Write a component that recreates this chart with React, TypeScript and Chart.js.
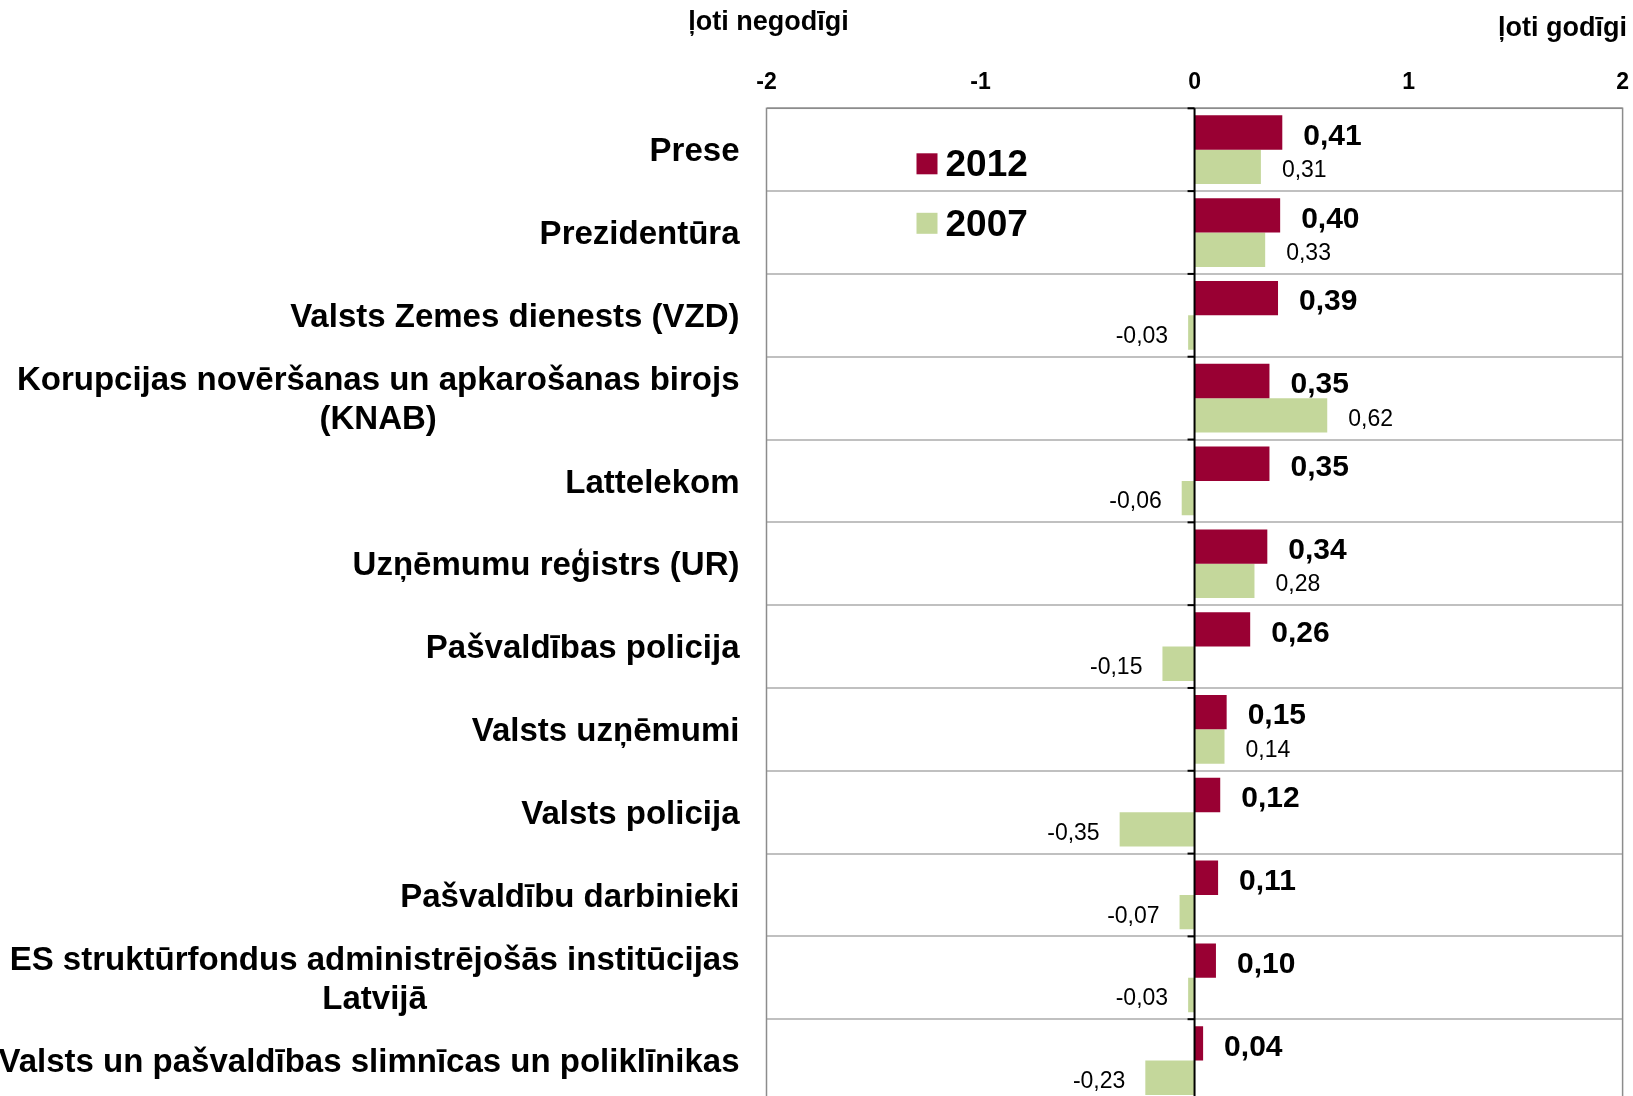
import React, { useEffect, useRef } from "react";
import { Chart, registerables } from "chart.js";

Chart.register(...registerables);

const categories: (string | string[])[] = [
  "Prese",
  "Prezidentūra",
  "Valsts Zemes dienests (VZD)",
  ["Korupcijas novēršanas un apkarošanas birojs", "(KNAB)"],
  "Lattelekom",
  "Uzņēmumu reģistrs (UR)",
  "Pašvaldības policija",
  "Valsts uzņēmumi",
  "Valsts policija",
  "Pašvaldību darbinieki",
  ["ES struktūrfondus administrējošās institūcijas", "Latvijā"],
  "Valsts un pašvaldības slimnīcas un poliklīnikas",
];

const values2012 = [0.41, 0.4, 0.39, 0.35, 0.35, 0.34, 0.26, 0.15, 0.12, 0.11, 0.1, 0.04];
const values2007 = [0.31, 0.33, -0.03, 0.62, -0.06, 0.28, -0.15, 0.14, -0.35, -0.07, -0.03, -0.23];

const seriesLabels = ["2012", "2007"];
const seriesColors = ["#990033", "#C4D79B"];

const axisMin = -2;
const axisMax = 2;
const leftTitle = "ļoti negodīgi";
const rightTitle = "ļoti godīgi";

const FONT = "'Liberation Sans', Arial, sans-serif";

const fmt = (v: number) => v.toFixed(2).replace(".", ",");

const customPlugin = {
  id: "customDraw",
  beforeDatasetsDraw(chart: any) {
    const { ctx, chartArea } = chart;
    ctx.save();
    ctx.strokeStyle = "#8c8c8c";
    ctx.lineWidth = 1.5;
    ctx.strokeRect(chartArea.left, chartArea.top, chartArea.right - chartArea.left, chartArea.bottom - chartArea.top);
    ctx.restore();
  },
  afterDatasetsDraw(chart: any) {
    const { ctx, chartArea } = chart;
    const xs = chart.scales.x;
    const ys = chart.scales.y;
    const x0 = xs.getPixelForValue(0);
    ctx.save();
    // zero axis line
    ctx.strokeStyle = "#000000";
    ctx.lineWidth = 2;
    ctx.beginPath();
    ctx.moveTo(x0, chartArea.top);
    ctx.lineTo(x0, chartArea.bottom + 20);
    ctx.stroke();
    // tick marks at category boundaries
    for (let i = 0; i <= categories.length; i++) {
      const y = ys.getPixelForValue(i - 0.5);
      ctx.beginPath();
      ctx.moveTo(x0 - 7, y);
      ctx.lineTo(x0, y);
      ctx.stroke();
    }

    // data labels
    chart.data.datasets.forEach((ds: any, di: number) => {
      const meta = chart.getDatasetMeta(di);
      ctx.font = di === 0 ? `bold 30px ${FONT}` : `23px ${FONT}`;
      ctx.fillStyle = "#000000";
      ctx.textBaseline = "middle";
      meta.data.forEach((bar: any, i: number) => {
        const v = ds.data[i];
        if (v >= 0) {
          ctx.textAlign = "left";
          ctx.fillText(fmt(v), bar.x + 21, bar.y + 4);
        } else {
          ctx.textAlign = "right";
          ctx.fillText(fmt(v), bar.x - 20, bar.y + 4);
        }
      });
    });

    // category labels
    ctx.font = `bold 33px ${FONT}`;
    ctx.fillStyle = "#000000";
    ctx.textBaseline = "middle";
    ctx.textAlign = "center";
    const rightX = chartArea.left - 27;
    const lh = 38.5;
    categories.forEach((lab, i) => {
      const lines = Array.isArray(lab) ? lab : [lab];
      const maxW = Math.max(...lines.map((l) => ctx.measureText(l).width));
      const cx = rightX - maxW / 2;
      const cy = ys.getPixelForValue(i);
      lines.forEach((l, j) => {
        ctx.fillText(l, cx, cy + (j - (lines.length - 1) / 2) * lh + 2.5);
      });
    });

    // legend
    const lx = chartArea.left + 150;
    const lys = [chartArea.top + 55.5, chartArea.top + 115];
    chart.data.datasets.forEach((ds: any, di: number) => {
      ctx.fillStyle = ds.backgroundColor;
      ctx.fillRect(lx, lys[di] - 10.5, 21, 21);
      ctx.fillStyle = "#000000";
      ctx.font = `bold 37px ${FONT}`;
      ctx.textAlign = "left";
      ctx.textBaseline = "middle";
      ctx.fillText(ds.label, lx + 29, lys[di] + 2);
    });

    // titles
    ctx.font = `bold 27px ${FONT}`;
    ctx.textAlign = "center";
    ctx.fillText(leftTitle, xs.getPixelForValue(axisMin) + 2, 23);
    ctx.textAlign = "right";
    ctx.fillText(rightTitle, 1627, 29);
    ctx.restore();
  },
};

export default function App() {
  const ref = useRef<HTMLCanvasElement | null>(null);
  useEffect(() => {
    if (!ref.current) return;
    const chart = new Chart(ref.current, {
      type: "bar",
      data: {
        labels: categories as any,
        datasets: [
          { label: seriesLabels[0], data: values2012, backgroundColor: seriesColors[0], borderWidth: 0 },
          { label: seriesLabels[1], data: values2007, backgroundColor: seriesColors[1], borderWidth: 0 },
        ],
      },
      options: {
        indexAxis: "y",
        animation: false,
        responsive: false,
        devicePixelRatio: 1,
        layout: { padding: { left: 0, top: 0, right: 10.4, bottom: 8 } },
        datasets: { bar: { categoryPercentage: 0.83, barPercentage: 1.0 } },
        plugins: { legend: { display: false }, tooltip: { enabled: false }, title: { display: false } },
        scales: {
          x: {
            position: "top",
            min: axisMin,
            max: axisMax,
            ticks: {
              stepSize: 1,
              padding: 12,
              color: "#000000",
              font: { family: FONT, size: 23, weight: "bold" },
              callback: (v: any) => String(v),
            },
            grid: { display: false, drawTicks: false },
            border: { display: false },
            afterFit: (scale: any) => {
              scale.height = 108.3;
              scale.paddingLeft = 0;
              scale.paddingRight = 0;
            },
          },
          y: {
            ticks: { display: false },
            grid: { color: "#c0c0c0", lineWidth: 2, drawTicks: false },
            border: { display: false },
            afterFit: (scale: any) => {
              scale.width = 766.5;
              scale.paddingTop = 0;
              scale.paddingBottom = 0;
            },
          },
        },
      },
      plugins: [customPlugin],
    } as any);
    return () => chart.destroy();
  }, []);
  return (
    <div style={{ position: "fixed", left: 0, top: 0, width: 1633, height: 1096, overflow: "hidden", background: "#ffffff" }}>
      <canvas ref={ref} width={1633} height={1110} style={{ display: "block", width: 1633, height: 1110 }} />
    </div>
  );
}
